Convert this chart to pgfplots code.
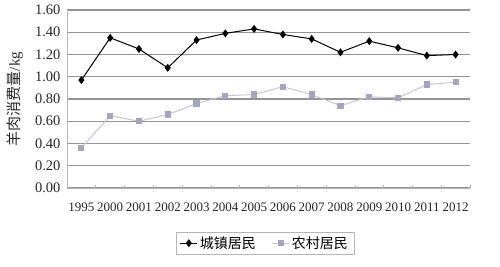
\documentclass[border=0pt]{standalone}
\usepackage{pgfplots}
\pgfplotsset{compat=1.18}
\usepackage{fontspec}
\setmainfont{Liberation Serif}
\newfontfamily\cjk{Noto Sans CJK SC}
\definecolor{rural}{HTML}{A4A5C0}
\definecolor{ruralline}{HTML}{C4C5D6}
\definecolor{gridc}{HTML}{959595}
\definecolor{axc}{HTML}{B5B5B5}
\begin{document}
\begin{tikzpicture}[x=1pt,y=1pt]
\useasboundingbox (0,0) rectangle (500,267);
\begin{axis}[
  at={(67pt,79pt)}, anchor=south west,
  scale only axis, width=403pt, height=178pt,
  xmin=-0.5, xmax=13.5, ymin=0, ymax=1.6,
  axis x line*=bottom, axis y line*=left,
  axis line style={axc, line width=0.8pt},
  xtick={0,...,13},
  xticklabels={1995,2000,2001,2002,2003,2004,2005,2006,2007,2008,2009,2010,2011,2012},
  major x tick style={draw=none},
  minor xtick={-0.5,0.5,...,13.5},
  minor tick length=3pt,
  minor x tick style={axc, line width=0.6pt},
  ytick={0,0.2,...,1.6},
  /pgf/number format/fixed,
  /pgf/number format/fixed zerofill,
  /pgf/number format/precision=2,
  /pgf/number format/assume math mode=true,
  ymajorgrids, grid style={gridc, line width=1.1pt},
  major y tick style={draw=none},
  tick label style={text=black!85},
  yticklabel style={font=\fontsize{14.5}{15}\selectfont, xshift=-3pt},
  xticklabel style={font=\fontsize{13}{14}\selectfont, yshift=-11pt},
  ylabel={\cjk 羊肉消费量\rmfamily/kg},
  ylabel style={font=\fontsize{15}{16}\selectfont, at={(axis description cs:-0.129,0.5)}, anchor=center, text=black!85},
  legend style={at={(axis description cs:0.491,-0.31)}, anchor=center, legend columns=2, draw=axc, font=\fontsize{14}{15}\selectfont, /tikz/every even column/.append style={column sep=14pt}, inner xsep=4pt},
  legend cell align=left,
]
\addplot[black, line width=1pt, mark=diamond*, mark size=3.2pt, mark options={fill=black}] coordinates {
(0,0.97) (1,1.35) (2,1.25) (3,1.08) (4,1.33) (5,1.39) (6,1.43) (7,1.38) (8,1.34) (9,1.22) (10,1.32) (11,1.26) (12,1.19) (13,1.20)};
\addlegendentry{\cjk 城镇居民}
\addplot[ruralline, line width=1pt, mark=square*, mark size=2.6pt, mark options={fill=rural, draw=rural}] coordinates {
(0,0.36) (1,0.65) (2,0.60) (3,0.66) (4,0.76) (5,0.83) (6,0.84) (7,0.91) (8,0.84) (9,0.74) (10,0.82) (11,0.81) (12,0.93) (13,0.95)};
\addlegendentry{\cjk 农村居民}
\end{axis}
\end{tikzpicture}
\end{document}
